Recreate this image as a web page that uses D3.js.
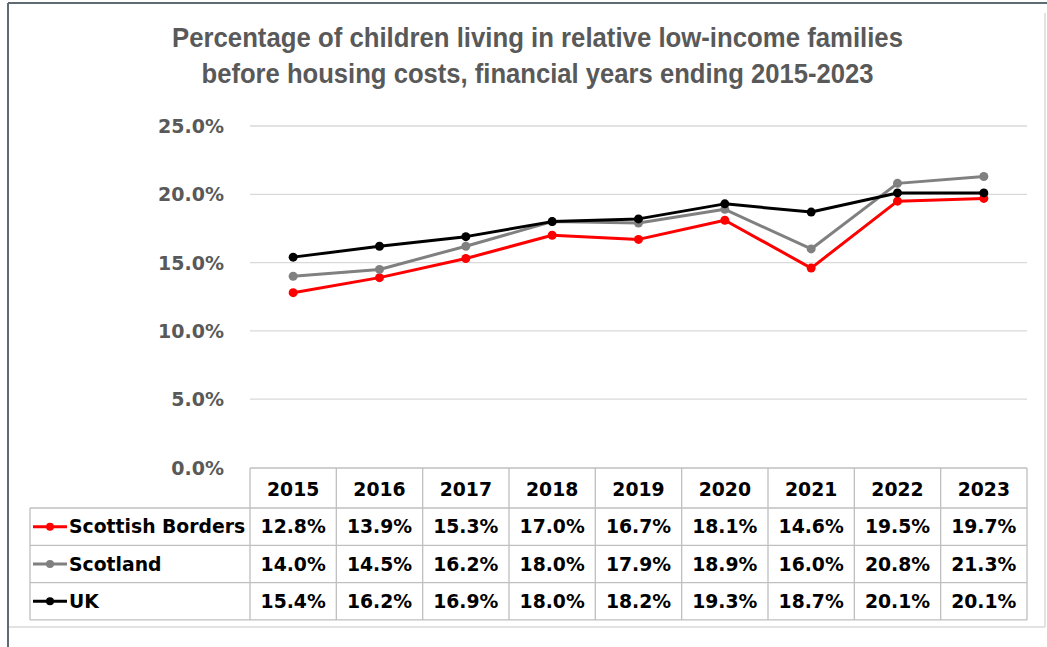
<!DOCTYPE html>
<html>
<head>
<meta charset="utf-8">
<script src="https://cdn.jsdelivr.net/npm/d3@7"></script>
<style>
  html, body { margin: 0; padding: 0; background: #fff; }
  svg { display: block; }
</style>
</head>
<body>
<svg id="chart" width="1047" height="647"></svg>
<script>
const years = ["2015", "2016", "2017", "2018", "2019", "2020", "2021", "2022", "2023"];
const seriesNames = ["Scottish Borders", "Scotland", "UK"];
const bordersValues = [12.8, 13.9, 15.3, 17.0, 16.7, 18.1, 14.6, 19.5, 19.7];
const scotlandValues = [14.0, 14.5, 16.2, 18.0, 17.9, 18.9, 16.0, 20.8, 21.3];
const ukValues = [15.4, 16.2, 16.9, 18.0, 18.2, 19.3, 18.7, 20.1, 20.1];
const seriesColors = ["#FF0000", "#808080", "#000000"];
const yTicks = [0, 5, 10, 15, 20, 25];
const titleLines = [
  "Percentage of children living in relative low-income families",
  "before housing costs, financial years ending 2015-2023"
];
const titleWidths = [731, 672];

const series = seriesNames.map((name, i) => ({
  name,
  color: seriesColors[i],
  values: [bordersValues, scotlandValues, ukValues][i]
}));

const svg = d3.select("#chart");

// outer frame
svg.append("line").attr("x1", 8).attr("x2", 1047).attr("y1", 3).attr("y2", 3)
  .attr("stroke", "#5f6b73").attr("stroke-width", 2);
svg.append("line").attr("x1", 8).attr("x2", 8).attr("y1", 3).attr("y2", 647)
  .attr("stroke", "#5f6b73").attr("stroke-width", 2);
// chart area light border
svg.append("line").attr("x1", 1045).attr("x2", 1045).attr("y1", 13).attr("y2", 627)
  .attr("stroke", "#d9d9d9").attr("stroke-width", 1.5);
svg.append("line").attr("x1", 9).attr("x2", 1045).attr("y1", 627).attr("y2", 627)
  .attr("stroke", "#d9d9d9").attr("stroke-width", 1.5);

const plotLeft = 250, plotRight = 1027;
const x = d3.scaleBand().domain(years).range([plotLeft, plotRight]).padding(0);
const y = d3.scaleLinear().domain([0, 25]).range([467.5, 126]);

// title
const title = svg.append("text")
  .attr("text-anchor", "middle")
  .attr("fill", "#595959")
  .style("font-family", "'Liberation Sans', Arial, sans-serif")
  .style("font-weight", "bold")
  .style("font-size", "28px");
titleLines.forEach((t, i) => {
  title.append("tspan").attr("x", 537.5).attr("y", 47 + i * 36)
    .attr("textLength", titleWidths[i])
    .attr("lengthAdjust", "spacingAndGlyphs")
    .text(t);
});

// gridlines
svg.append("g").selectAll("line").data(yTicks.filter(d => d > 0)).join("line")
  .attr("x1", plotLeft).attr("x2", plotRight)
  .attr("y1", d => y(d)).attr("y2", d => y(d))
  .attr("stroke", "#d9d9d9").attr("stroke-width", 1.3);

// y axis labels
const yAxis = d3.axisLeft(y).tickValues(yTicks).tickSize(0).tickPadding(0)
  .tickFormat(d => d3.format(".1f")(d) + "%");
const yg = svg.append("g").attr("transform", `translate(224,0)`).call(yAxis);
yg.select(".domain").remove();
yg.selectAll("text")
  .attr("fill", "#595959")
  .style("font-family", "'DejaVu Sans', sans-serif")
  .style("font-weight", "bold")
  .style("font-size", "19px")
  .attr("dy", "0.35em");

// lines
const line = d3.line()
  .x((d, i) => x(years[i]) + x.bandwidth() / 2)
  .y(d => y(d));

const sg = svg.append("g");
series.forEach(s => {
  sg.append("path").datum(s.values)
    .attr("d", line)
    .attr("fill", "none")
    .attr("stroke", s.color)
    .attr("stroke-width", 3)
    .attr("stroke-linejoin", "round");
  sg.append("g").selectAll("circle").data(s.values).join("circle")
    .attr("cx", (d, i) => x(years[i]) + x.bandwidth() / 2)
    .attr("cy", d => y(d))
    .attr("r", 4.5)
    .attr("fill", s.color);
});

// data table
const tableTop = 468, headerH = 40, rowH = 37.3, legendLeft = 30;
const tg = svg.append("g");
const gridColor = "#bfbfbf";
const tableBottom = tableTop + headerH + rowH * series.length;

tg.append("line").attr("x1", plotLeft).attr("x2", plotRight)
  .attr("y1", tableTop).attr("y2", tableTop).attr("stroke", gridColor).attr("stroke-width", 1.3);
d3.range(series.length + 1).forEach(i => {
  const yy = tableTop + headerH + i * rowH;
  tg.append("line").attr("x1", legendLeft).attr("x2", plotRight)
    .attr("y1", yy).attr("y2", yy).attr("stroke", gridColor).attr("stroke-width", 1.3);
});
tg.append("line").attr("x1", legendLeft).attr("x2", legendLeft)
  .attr("y1", tableTop + headerH).attr("y2", tableBottom).attr("stroke", gridColor).attr("stroke-width", 1.3);
years.concat(["end"]).forEach((yr, i) => {
  const xx = plotLeft + i * x.bandwidth();
  tg.append("line").attr("x1", xx).attr("x2", xx)
    .attr("y1", tableTop).attr("y2", tableBottom).attr("stroke", gridColor).attr("stroke-width", 1.3);
});

const tableFont = sel => sel
  .style("font-family", "'DejaVu Sans', sans-serif")
  .style("font-weight", "bold")
  .style("font-size", "18.8px")
  .attr("fill", "#000");

tg.append("g").selectAll("text").data(years).join("text")
  .attr("x", d => x(d) + x.bandwidth() / 2)
  .attr("y", tableTop + headerH / 2 + 1)
  .attr("dy", "0.35em")
  .attr("text-anchor", "middle")
  .text(d => d)
  .call(tableFont);

series.forEach((s, r) => {
  const cy = tableTop + headerH + r * rowH + rowH / 2;
  tg.append("line").attr("x1", 33).attr("x2", 67).attr("y1", cy).attr("y2", cy)
    .attr("stroke", s.color).attr("stroke-width", 3);
  tg.append("circle").attr("cx", 50).attr("cy", cy).attr("r", 4).attr("fill", s.color);
  tg.append("text").attr("x", 69).attr("y", cy).attr("dy", "0.35em")
    .text(s.name).call(tableFont);
  tg.append("g").selectAll("text").data(s.values).join("text")
    .attr("x", (d, i) => x(years[i]) + x.bandwidth() / 2)
    .attr("y", cy)
    .attr("dy", "0.35em")
    .attr("text-anchor", "middle")
    .text(d => d3.format(".1f")(d) + "%")
    .call(tableFont);
});
</script>
</body>
</html>
